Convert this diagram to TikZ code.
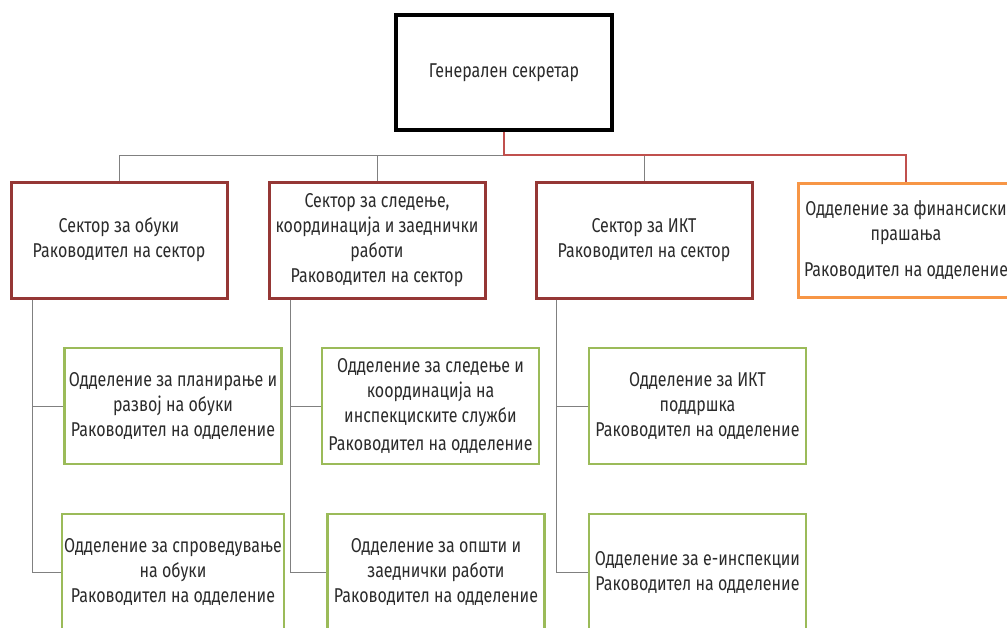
\documentclass[tikz,border=0pt]{standalone}
\usepackage{fontspec}
\setmainfont[FakeStretch=0.8]{Fira Sans}
\usepackage{xcolor}
\usepackage{tikz}

\definecolor{sekred}{HTML}{953735}
\definecolor{busred}{HTML}{C0504D}
\definecolor{finorange}{HTML}{F79646}
\definecolor{oddgreen}{HTML}{9BBB59}
\definecolor{txtgray}{HTML}{2B2B2B}
\definecolor{linegray}{HTML}{808080}

\begin{document}
\begin{tikzpicture}[x=1pt,y=-1pt,
  every node/.style={font=\fontsize{20}{25}\selectfont, text=txtgray, align=center, inner sep=2pt},
  gsbox/.style={draw=black, line width=3.5pt, minimum width=216pt, minimum height=115pt},
  sektor/.style={draw=sekred, line width=3pt, minimum width=216pt, minimum height=116pt},
  finbox/.style={draw=finorange, line width=3pt, minimum width=216pt, minimum height=114pt},
  oddel/.style={draw=oddgreen, line width=2.5pt, minimum width=217pt, minimum height=116pt},
  grayline/.style={draw=linegray, line width=1pt},
  redline/.style={draw=busred, line width=2pt}]
\useasboundingbox (0,0) rectangle (1007,627);
% top
\node[gsbox] (GS) at (504,72.5) {Генерален секретар};
% sectors
\node[sektor] (S1) at (119,240) {Сектор за обуки\\Раководител на сектор};
\node[sektor] (S2) at (377,240) {Сектор за следење,\\координација и заеднички\\работи\\Раководител на сектор};
\node[sektor] (S3) at (644,240) {Сектор за ИКТ\\Раководител на сектор};
\node[finbox] (S4) at (906,240) {Одделение за финансиски\\прашања\\[11pt]Раководител на одделение};
% departments
\node[oddel] (D11) at (173,406) {Одделение за планирање и\\развој на обуки\\Раководител на одделение};
\node[oddel] (D12) at (173,572) {Одделение за спроведување\\на обуки\\Раководител на одделение};
\node[oddel] (D21) at (430.5,406) {Одделение за следење и\\координација на\\инспекциските служби\\[3pt]Раководител на одделение};
\node[oddel] (D22) at (436,572) {Одделение за општи и\\заеднички работи\\Раководител на одделение};
\node[oddel] (D31) at (697.5,406) {Одделение за ИКТ\\поддршка\\Раководител на одделение};
\node[oddel] (D32) at (697.5,572) {Одделение за е-инспекции\\Раководител на одделение};
% bus
\coordinate (Bus) at (0,155);
\draw[grayline] (S1.north) |- (Bus -| GS.south);
\draw[grayline] (S2.north) -- (Bus -| S2.north);
\draw[grayline] (S3.north) -- (Bus -| S3.north);
\draw[redline] (GS.south) |- (Bus -| S4.north) -- (S4.north);
% sector to department lines
\draw[grayline] ([xshift=23pt]S1.south west) |- (D12.west);
\draw[grayline] ([xshift=23pt]S1.south west |- D11.west) -- (D11.west);
\draw[grayline] ([xshift=23pt]S2.south west) |- (D22.west);
\draw[grayline] ([xshift=23pt]S2.south west |- D21.west) -- (D21.west);
\draw[grayline] ([xshift=22pt]S3.south west) |- (D32.west);
\draw[grayline] ([xshift=22pt]S3.south west |- D31.west) -- (D31.west);
\end{tikzpicture}
\end{document}
